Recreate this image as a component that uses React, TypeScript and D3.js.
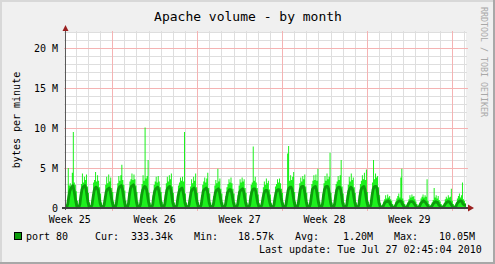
import React from 'react';
import * as d3 from 'd3';

const W = 495;
const H = 264;

// Time of first sample (UTC) — one row per day, samples every 2 hours (00,02,...,22)
const firstDayUTC = Date.UTC(2010, 5, 24);
const stepHours = 2;

// Peak (max) bytes per minute, in millions, per 2h slot
const maxJun24 = [2.0,0.8,0.4,0.5,5.0,2.8,3.1,2.7,4.4,9.5,3.2,2.9];
const maxJun25 = [2.1,0.9,0.3,0.6,1.8,3.0,4.3,3.2,3.9,3.5,4.2,2.7];
const maxJun26 = [1.9,0.7,0.3,0.5,1.7,3.2,3.5,4.5,3.3,4.1,3.4,2.6];
const maxJun27 = [1.8,0.7,0.3,0.5,1.5,2.9,3.9,3.1,4.2,3.3,3.8,2.5];
const maxJun28 = [2.0,0.8,0.4,0.6,1.8,3.1,4.0,3.4,4.1,5.4,3.5,2.9];
const maxJun29 = [2.2,0.9,0.4,0.6,1.9,3.3,3.6,4.3,3.5,4.2,3.6,2.8];
const maxJun30 = [2.0,0.8,0.3,0.5,1.8,3.0,4.1,3.4,10.05,3.7,4.0,6.0];
const maxJul01 = [1.9,0.7,0.3,0.5,1.6,2.9,3.3,3.9,3.2,4.0,3.3,2.6];
const maxJul02 = [2.0,0.8,0.4,0.5,1.7,3.1,3.9,3.3,4.1,3.6,4.3,2.7];
const maxJul03 = [1.9,0.7,0.3,0.5,1.6,2.8,3.2,3.8,3.4,3.9,3.3,9.5];
const maxJul04 = [1.8,0.7,0.3,0.5,1.5,2.7,3.6,3.1,3.9,3.4,4.3,2.6];
const maxJul05 = [1.9,0.7,0.3,0.5,1.6,2.9,3.3,3.8,3.2,3.7,4.4,2.5];
const maxJul06 = [1.8,0.7,0.3,0.5,1.5,2.8,3.5,3.1,4.9,3.3,3.7,2.4];
const maxJul07 = [1.8,0.7,0.3,0.5,1.5,2.6,3.0,3.6,3.2,3.8,3.1,2.4];
const maxJul08 = [1.8,0.7,0.3,0.5,1.6,2.8,3.6,3.2,3.8,3.3,3.6,2.5];
const maxJul09 = [1.9,0.7,0.3,0.5,1.6,2.9,3.2,7.7,3.4,3.9,3.2,2.5];
const maxJul10 = [1.7,0.6,0.3,0.5,1.4,2.6,3.3,2.9,3.7,3.1,3.4,2.3];
const maxJul11 = [1.7,0.6,0.3,0.5,1.4,2.7,3.0,3.6,3.2,3.7,3.1,2.4];
const maxJul12 = [1.9,0.7,0.3,0.5,1.7,6.8,7.75,3.4,4.1,3.5,3.9,4.5];
const maxJul13 = [2.0,0.8,0.4,0.6,1.8,3.1,3.8,3.3,4.0,3.6,4.2,2.7];
const maxJul14 = [1.9,0.7,0.3,0.5,1.7,3.0,3.4,4.1,3.5,4.2,3.4,4.9];
const maxJul15 = [2.0,0.8,0.3,0.5,1.8,3.1,4.0,3.4,4.3,3.6,3.9,6.9];
const maxJul16 = [1.9,0.7,0.3,0.5,1.7,3.0,3.3,4.0,3.5,4.1,6.0,2.7];
const maxJul17 = [1.8,0.7,0.3,0.5,1.6,2.9,3.9,3.3,4.3,3.5,3.8,2.6];
const maxJul18 = [1.9,0.7,0.3,0.5,1.6,3.0,3.4,4.1,3.6,4.4,3.5,4.8];
const maxJul19 = [2.0,0.8,0.4,0.6,1.8,3.2,6.0,3.6,4.3,3.8,4.0,2.6];
const maxJul20 = [1.6,0.6,0.3,0.4,0.8,1.1,1.6,1.2,1.7,1.3,1.5,1.1];
const maxJul21 = [0.9,0.5,0.3,0.4,0.8,1.2,1.5,1.8,1.3,3.8,4.9,1.2];
const maxJul22 = [0.9,0.5,0.3,0.4,0.7,1.1,1.6,1.3,1.7,1.4,1.5,1.1];
const maxJul23 = [0.8,0.5,0.3,0.4,0.7,1.2,1.4,1.7,1.3,1.6,1.4,3.6];
const maxJul24 = [0.9,0.5,0.3,0.4,0.7,1.0,2.5,1.3,1.6,1.2,1.5,1.0];
const maxJul25 = [0.8,0.5,0.3,0.3,0.6,1.1,1.4,1.2,1.6,1.3,1.4,2.4];
const maxJul26 = [0.9,0.5,0.3,0.4,0.7,1.2,1.5,1.8,1.3,1.6,3.2,1.1];
const maxJul27 = [0.9,0.6,0.5];

// Average bytes per minute, in millions, per 2h slot
const avgJun24 = [0.7,0.2,0.1,0.1,0.5,1.4,2.1,2.4,2.6,2.8,2.3,1.6];
const avgJun25 = [0.8,0.2,0.1,0.1,0.5,1.5,2.3,2.6,2.7,2.8,2.4,1.6];
const avgJun26 = [0.7,0.2,0.1,0.1,0.4,1.3,2.1,2.5,2.6,2.5,2.2,1.4];
const avgJun27 = [0.6,0.2,0.1,0.1,0.4,1.2,2.0,2.3,2.4,2.5,2.1,1.4];
const avgJun28 = [0.7,0.2,0.1,0.1,0.5,1.5,2.3,2.6,2.7,2.8,2.4,1.6];
const avgJun29 = [0.8,0.2,0.1,0.1,0.5,1.6,2.4,2.7,2.8,2.9,2.5,1.6];
const avgJun30 = [0.7,0.2,0.1,0.1,0.5,1.5,2.2,2.5,2.7,2.6,2.3,1.5];
const avgJul01 = [0.7,0.2,0.1,0.1,0.4,1.4,2.1,2.4,2.5,2.6,2.2,1.5];
const avgJul02 = [0.7,0.2,0.1,0.1,0.5,1.4,2.2,2.5,2.6,2.7,2.3,1.5];
const avgJul03 = [0.6,0.2,0.1,0.1,0.4,1.3,2.0,2.3,2.4,2.5,2.1,1.4];
const avgJul04 = [0.6,0.2,0.1,0.1,0.4,1.2,2.0,2.3,2.4,2.5,2.2,1.4];
const avgJul05 = [0.7,0.2,0.1,0.1,0.4,1.3,2.1,2.3,2.4,2.5,2.2,1.4];
const avgJul06 = [0.6,0.2,0.1,0.1,0.4,1.2,1.9,2.2,2.3,2.4,2.0,1.3];
const avgJul07 = [0.6,0.2,0.1,0.1,0.4,1.2,1.9,2.1,2.3,2.3,2.0,1.3];
const avgJul08 = [0.6,0.2,0.1,0.1,0.4,1.2,2.0,2.2,2.3,2.4,2.1,1.3];
const avgJul09 = [0.6,0.2,0.1,0.1,0.4,1.3,2.0,2.3,2.4,2.4,2.1,1.3];
const avgJul10 = [0.6,0.2,0.1,0.1,0.4,1.1,1.8,2.1,2.2,2.2,1.9,1.2];
const avgJul11 = [0.6,0.2,0.1,0.1,0.4,1.2,1.9,2.2,2.3,2.3,2.0,1.3];
const avgJul12 = [0.7,0.2,0.1,0.1,0.5,1.4,2.2,2.5,2.6,2.6,2.3,1.5];
const avgJul13 = [0.7,0.2,0.1,0.1,0.5,1.4,2.3,2.6,2.7,2.7,2.3,1.5];
const avgJul14 = [0.7,0.2,0.1,0.1,0.5,1.4,2.3,2.5,2.6,2.7,2.3,1.5];
const avgJul15 = [0.7,0.2,0.1,0.1,0.5,1.5,2.3,2.6,2.7,2.7,2.4,1.5];
const avgJul16 = [0.7,0.2,0.1,0.1,0.5,1.4,2.2,2.5,2.6,2.6,2.3,1.5];
const avgJul17 = [0.6,0.2,0.1,0.1,0.4,1.3,2.1,2.4,2.6,2.5,2.2,1.4];
const avgJul18 = [0.7,0.2,0.1,0.1,0.4,1.4,2.2,2.5,2.6,2.7,2.3,1.5];
const avgJul19 = [0.7,0.2,0.1,0.1,0.5,1.5,2.3,2.6,2.7,2.7,2.4,1.4];
const avgJul20 = [0.6,0.2,0.1,0.1,0.2,0.5,0.7,0.8,0.8,0.9,0.8,0.5];
const avgJul21 = [0.3,0.1,0.05,0.05,0.2,0.5,0.7,0.8,0.9,0.9,0.8,0.5];
const avgJul22 = [0.3,0.1,0.05,0.05,0.2,0.5,0.7,0.8,0.8,0.8,0.7,0.5];
const avgJul23 = [0.3,0.1,0.05,0.05,0.2,0.5,0.7,0.8,0.9,0.8,0.7,0.5];
const avgJul24 = [0.3,0.1,0.05,0.05,0.2,0.4,0.6,0.7,0.8,0.7,0.7,0.4];
const avgJul25 = [0.3,0.1,0.05,0.05,0.2,0.4,0.6,0.7,0.8,0.8,0.7,0.5];
const avgJul26 = [0.3,0.1,0.05,0.05,0.2,0.5,0.7,0.8,0.9,0.9,0.8,0.5];
const avgJul27 = [0.4,0.33,0.33];

const maxDays = [maxJun24,maxJun25,maxJun26,maxJun27,maxJun28,maxJun29,maxJun30,maxJul01,maxJul02,maxJul03,maxJul04,maxJul05,maxJul06,maxJul07,maxJul08,maxJul09,maxJul10,maxJul11,maxJul12,maxJul13,maxJul14,maxJul15,maxJul16,maxJul17,maxJul18,maxJul19,maxJul20,maxJul21,maxJul22,maxJul23,maxJul24,maxJul25,maxJul26,maxJul27];
const avgDays = [avgJun24,avgJun25,avgJun26,avgJun27,avgJun28,avgJun29,avgJun30,avgJul01,avgJul02,avgJul03,avgJul04,avgJul05,avgJul06,avgJul07,avgJul08,avgJul09,avgJul10,avgJul11,avgJul12,avgJul13,avgJul14,avgJul15,avgJul16,avgJul17,avgJul18,avgJul19,avgJul20,avgJul21,avgJul22,avgJul23,avgJul24,avgJul25,avgJul26,avgJul27];

// Axis ticks / labels
const yTickValues = [0, 5, 10, 15, 20];
const yTickLabels = ['0', '5 M', '10 M', '15 M', '20 M'];
const weekStartDates = [Date.UTC(2010,5,21), Date.UTC(2010,5,28), Date.UTC(2010,6,5), Date.UTC(2010,6,12), Date.UTC(2010,6,19)];
const weekLabels = ['Week 25', 'Week 26', 'Week 27', 'Week 28', 'Week 29'];

const titleText = 'Apache volume - by month';
const yTitle = 'bytes per minute';
const watermark = 'RRDTOOL / TOBI OETIKER';
const seriesName = 'port 80';
const statLabels = ['Cur:', 'Min:', 'Avg:', 'Max:'];
const statValues = ['333.34k', '18.57k', '1.20M', '10.05M'];
const lastUpdate = 'Last update: Tue Jul 27 02:45:04 2010';

const FONT = "'DejaVu Sans Mono', monospace";

type Pt = { t: Date; max: number; avg: number };

function buildPoints(): Pt[] {
  const pts: Pt[] = [];
  maxDays.forEach((row, d) => {
    row.forEach((v, i) => {
      const t = new Date(firstDayUTC + (d * 24 + i * stepHours) * 3600 * 1000);
      pts.push({ t, max: v, avg: avgDays[d][i] });
    });
  });
  return pts;
}

export default function App() {
  const pts = buildPoints();
  const left = 66, right = 466, top = 32, bottom = 208;
  const x = d3.scaleUtc()
    .domain([new Date(Date.UTC(2010, 5, 24, 4, 30)), new Date(Date.UTC(2010, 6, 27, 4, 0))])
    .range([left, right]);
  const y = d3.scaleLinear().domain([0, 22]).range([bottom, top]);

  const area = d3.area<Pt>().x(d => x(d.t)).y0(y(0)).y1(d => y(d.max)).curve(d3.curveStepAfter);
  const line = d3.line<Pt>().x(d => x(d.t)).y(d => y(d.avg)).curve(d3.curveLinear);

  const [d0, d1] = x.domain();
  const days = d3.utcDay.range(d0, d1);
  const mondays = d3.utcMonday.range(d0, d1);
  const minorY = d3.range(1, 23).filter(v => v % 5 !== 0);

  const statLabelX = [95, 194, 295, 394];
  const statValueX = [131, 238, 343, 439];

  return (
    <svg width={W} height={H} style={{ position: 'absolute', left: 0, top: 0, display: 'block' }}
      fontFamily={FONT}>
      <defs>
        <clipPath id="plotclip">
          <rect x={left} y={top} width={right - left} height={bottom - top} />
        </clipPath>
      </defs>
      <rect x={0} y={0} width={W} height={H} fill="#f0f0f0" />
      {/* frame */}
      <line x1={0} y1={1} x2={W} y2={1} stroke="#d8d8d8" strokeWidth={2} />
      <line x1={1} y1={0} x2={1} y2={H} stroke="#d8d8d8" strokeWidth={2} />
      <line x1={0} y1={H - 1} x2={W} y2={H - 1} stroke="#a8a8a8" strokeWidth={2} />
      <line x1={W - 1} y1={0} x2={W - 1} y2={H} stroke="#a8a8a8" strokeWidth={2} />

      <rect x={left} y={top} width={right - left} height={bottom - top} fill="#ffffff" />

      {/* minor grid */}
      {minorY.map(v => (
        <line key={'my' + v} x1={left - 2} x2={right + 1} y1={y(v) + 0.5} y2={y(v) + 0.5} stroke="#dedede" strokeWidth={1} />
      ))}
      {days.map((d, i) => (
        <line key={'dx' + i} x1={Math.round(x(d)) + 0.5} x2={Math.round(x(d)) + 0.5} y1={top - 1} y2={bottom + 2} stroke="#dedede" strokeWidth={1} />
      ))}
      {/* major grid */}
      {yTickValues.filter(v => v > 0).map(v => (
        <line key={'My' + v} x1={left - 2} x2={right + 2} y1={y(v) + 0.5} y2={y(v) + 0.5} stroke="#f5b3b3" strokeWidth={1} />
      ))}
      {mondays.map((d, i) => (
        <line key={'Mx' + i} x1={Math.round(x(d)) + 0.5} x2={Math.round(x(d)) + 0.5} y1={top - 1} y2={bottom + 3} stroke="#f5b3b3" strokeWidth={1} />
      ))}

      {/* data */}
      <g clipPath="url(#plotclip)">
        <path d={area(pts) || ''} fill="#1ef01e" />
        <path d={line(pts) || ''} fill="none" stroke="#0c9c0c" strokeWidth={2.8} strokeLinejoin="round" />
      </g>

      {/* axes */}
      <line x1={65.5} x2={65.5} y1={bottom + 2} y2={29} stroke="#5a5a5a" strokeWidth={1} />
      <path d="M62.5,31 L68.5,31 L65.5,25 Z" fill="#9a2020" />
      <line x1={62} x2={469} y1={bottom} y2={bottom} stroke="#404040" strokeWidth={2} />
      <path d="M468,204.5 L468,211.5 L474,208 Z" fill="#9a2020" />

      {/* y tick labels */}
      {yTickValues.map((v, i) => (
        <text key={'yl' + v} x={58} y={y(v) + 4} textAnchor="end" fontSize={10} fill="#000">{yTickLabels[i]}</text>
      ))}
      {/* x labels */}
      {weekStartDates.map((ws, i) => (
        <text key={'xl' + i} x={x(new Date(ws + 3.5 * 86400000))} y={223} textAnchor="middle" fontSize={10} fill="#000">{weekLabels[i]}</text>
      ))}

      {/* title */}
      <text x={248} y={21} textAnchor="middle" fontSize={13} fill="#000">{titleText}</text>
      {/* y title */}
      <text transform="translate(20,120) rotate(-90)" textAnchor="middle" fontSize={10} fill="#000">{yTitle}</text>
      {/* watermark */}
      <text transform="translate(481,7) rotate(90)" textAnchor="start" fontSize={8.3} fill="#a8a8a8">{watermark}</text>

      {/* legend */}
      <rect x={14.5} y={232.5} width={7} height={7} fill="#0c9c0c" stroke="#000" strokeWidth={1} />
      <text x={26} y={240} fontSize={10} fill="#000">{seriesName}</text>
      {statLabels.map((s, i) => (
        <text key={'sl' + i} x={statLabelX[i]} y={240} fontSize={10} fill="#000">{s}</text>
      ))}
      {statValues.map((s, i) => (
        <text key={'sv' + i} x={statValueX[i]} y={240} fontSize={10} fill="#000">{s}</text>
      ))}
      <text x={259} y={253} fontSize={10} fill="#000">{lastUpdate}</text>
    </svg>
  );
}
